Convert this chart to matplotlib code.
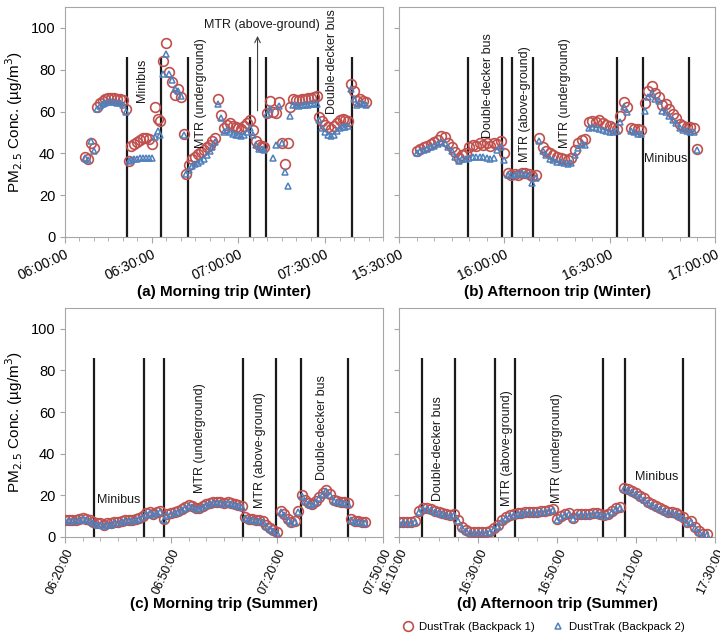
import numpy as np
import matplotlib.pyplot as plt

plt.rcParams['font.family'] = ['Liberation Sans', 'DejaVu Sans']

# ---- data (time in minutes from the start of each axis) ----
# (a) morning trip, winter: axis starts 06:00
a_t = list(range(7, 105))
a_red = [38.5, 37.5, 45, 42.5,
         62, 64, 65, 66, 66.5, 66.5, 66.5, 66, 66, 65.5, 61,
         36.5, 43.5, 44.5, 45.5, 46.5, 47.5, 47.5, 47, 44.5,
         62, 56.5, 55.5, 84, 93, 79, 74, 68, 71, 67, 49.5, 30,
         34.5, 37.5, 38.5, 39.5, 40.5, 41.5, 43, 44, 46, 47.5,
         66, 58.5, 52, 53.5, 54.5, 53, 52.5, 52, 51.5, 53, 54.5, 56,
         51, 46, 44, 43.5, 43,
         59.5, 65, 60, 59.5, 64.5, 45, 35, 45, 62,
         66, 65.5, 65.5, 66, 66, 66.5, 66.5, 67, 67.5,
         57.5, 55.5, 53.5, 52.5, 51.5, 53, 54.5, 56, 56.5, 56, 55.5,
         73, 70, 65, 66, 65, 64.5]
a_blue = [38, 37, 46, 41,
          61, 62.5, 63.5, 64, 64.5, 64.5, 64.5, 64, 64, 63, 60,
          36.5, 37, 37.5, 37.5, 38, 38, 38, 38, 38,
          48, 50.5, 49, 78, 87.5, 78, 75, 71, 70, 67.5, 49, 30,
          32, 34, 35, 35.5, 36.5, 37.5, 39, 41, 43, 45.5,
          63.5, 57, 50, 51, 50, 49.5, 49, 49, 48.5, 49, 50, 52,
          49, 44, 42, 42, 41.5,
          59, 61, 38, 44, 62.5, 45, 31, 24.5, 58,
          63, 63, 62.5, 63, 63, 63, 63.5, 63.5, 63.5,
          56, 52, 50, 49, 48.5, 49, 50.5, 52, 52.5, 52.5, 53,
          71, 66, 63, 64, 63.5, 63]

# (b) afternoon trip, winter: axis starts 15:30
b_t = list(range(5, 86))
b_red = [41, 42, 43, 43.5, 44.5, 45.5, 46.5, 48.5, 48, 45, 43, 40.5, 38, 39, 40,
         43, 44, 43.5, 45, 44, 45, 43.5, 45, 44.5, 46,
         40, 30.5, 29.5, 30, 29.5, 30.5, 30.5, 30, 29, 29.5,
         47.5, 43, 41, 40, 39, 38.5, 38, 37.5, 37, 38, 41.5, 45, 46.5, 47,
         55, 55.5, 55, 56, 54.5, 53.5, 53, 52, 51.5,
         58, 64.5, 62, 52, 51.5, 51.5, 51,
         64, 70, 72, 69, 67, 63, 63.5, 61, 59, 57, 54, 53, 52.5,
         52.5, 52, 42]
b_blue = [40, 41, 41.5, 42, 43, 43.5, 44.5, 45.5, 45, 43, 41, 38.5, 36.5, 37.5, 37.5,
          38, 38.5, 38.5, 38.5, 38.5, 38, 37.5, 38, 41.5, 43,
          37, 29.5, 29.5, 29.5, 30, 30.5, 30, 29.5, 26, 28,
          46, 41, 39, 37.5, 37, 36, 36, 35.5, 35, 35.5, 39, 42.5, 44.5, 44,
          52, 52.5, 52, 51.5, 51, 50.5, 50, 50, 50.5,
          55, 62, 60, 50.5, 50, 49.5, 49.5,
          60.5, 67, 69, 66, 65, 60.5, 60, 58, 56, 54.5, 52, 51, 50.5,
          50, 50, 41.5]

# (c) morning trip, summer: axis starts 06:20
c_t = list(range(0, 86))
c_red = [8, 8, 8, 8, 8.5, 9, 8.5, 8, 7, 6.5, 6.5, 6, 6.5, 6.5, 7, 7, 7.5, 8, 8, 8,
         8.5, 9, 10, 11.5, 12, 11, 12, 12.5, 8.5, 11, 11.5, 12, 12.5, 13.5, 14.5,
         15.5, 15, 14, 14, 15, 16, 16.5, 17, 17, 17, 16.5, 17, 16.5, 16, 15.5, 15,
         9.5, 8.5, 8.5, 8, 8, 7.5, 6, 4.5, 3.5, 2.5, 12.5, 11, 8.5, 7, 7.5, 12.5,
         20, 18, 16.5, 16, 17.5, 19, 21, 22.5, 20.5, 18, 17.5, 17, 17, 16.5,
         8.5, 7.5, 7.5, 7.2, 7]
c_blue = [7.5, 7.5, 7.5, 7.5, 8, 8.5, 8, 7.5, 6.5, 6, 6, 5.5, 6, 6, 6.5, 6.5, 7, 7.5, 7.5, 7.5,
          8, 8.5, 9.5, 11, 11.5, 10.5, 11.5, 12, 8, 10.5, 11, 11.5, 12, 13, 14,
          15, 14.5, 13.5, 13.5, 14.5, 15.5, 16, 16.5, 16.5, 16.5, 16, 16.5, 16, 15.5, 15, 14.5,
          9, 8, 8, 7.5, 7.5, 7, 5.5, 4, 3, 2, 12, 10.5, 8, 6.5, 7, 12,
          19.5, 17.5, 16, 15.5, 17, 18.5, 20.5, 22, 20, 17.5, 17, 16.5, 16.5, 16,
          8, 7, 7, 6.8, 6.5]

# (d) afternoon trip, summer: axis starts 16:10
d_t = list(range(0, 79))
d_red = [7, 7, 7, 7, 7.5, 12.5, 14, 14, 13.5, 12.5, 12, 11.5, 11, 10.5, 11,
         8, 5, 3.5, 2.5, 2.5, 2.5, 2.5, 2.5, 3, 4.5,
         6, 8, 9.5, 10.5, 11, 11.5, 11.5, 12, 12, 12, 12, 12.5, 12.5, 13, 13.5,
         8.5, 10, 11, 11.5, 9, 11, 11, 11, 11, 11.5, 11.5, 11,
         10.5, 11, 12.5, 14, 14.5,
         23.5, 23, 22, 21, 19.5, 18.5, 17, 16, 15, 14, 13, 12, 12, 11.5, 10.5, 9.5,
         7, 7.5, 5, 3, 1.5, 1.5]
d_blue = [6.5, 6.5, 6.5, 6.5, 7, 12, 13.5, 13.5, 13, 12, 11.5, 11, 10.5, 10, 10.5,
          7.5, 4.5, 3, 2, 2, 2, 2, 2, 2.5, 4,
          5.5, 7.5, 9, 10, 10.5, 11, 11, 11.5, 11.5, 11.5, 11.5, 12, 12, 12.5, 13,
          8, 9.5, 10.5, 11, 8.5, 10.5, 10.5, 10.5, 10.5, 11, 11, 10.5,
          10, 10.5, 12, 13.5, 14,
          23, 22.5, 21.5, 20.5, 19, 18, 16.5, 15.5, 14.5, 13.5, 12.5, 11.5, 11.5, 11, 10, 9,
          6.5, 7, 4.5, 2.5, 1, 1]

# mode change times (minutes)
a_lines = [21.4, 33.1, 42.4, 63.9, 69.4, 87.5, 99.2]
b_lines = [19.7, 29.3, 32.2, 38.1, 62.1, 69.6, 82.7]
c_lines = [8.2, 22.4, 28.0, 50.3, 59.8, 66.9, 80.0]
d_lines = [5.8, 14.2, 24.3, 29.4, 51.6, 57.1, 72.0]

a_ticks = [0, 30, 60, 90]
a_labels = ['06:00:00', '06:30:00', '07:00:00', '07:30:00']
b_ticks = [0, 30, 60, 90]
b_labels = ['15:30:00', '16:00:00', '16:30:00', '17:00:00']
c_ticks = [0, 30, 60, 90]
c_labels = ['06:20:00', '06:50:00', '07:20:00', '07:50:00']
d_ticks = [0, 20, 40, 60, 80]
d_labels = ['16:10:00', '16:30:00', '16:50:00', '17:10:00', '17:30:00']

# text labels: (text, x, y, rotation)
a_text = [('Minibus', 26.6, 75, 90), ('MTR (underground)', 47.2, 69, 90),
          ('MTR (above-ground)', 68, 101.5, 0), ('Double-decker bus', 92.4, 84, 90)]
b_text = [('Double-decker bus', 25.4, 72.5, 90), ('MTR (above-ground)', 35.9, 63.5, 90),
          ('MTR (underground)', 47.3, 69, 90), ('Minibus', 76, 37.5, 0)]
c_text = [('Minibus', 15.1, 18, 0), ('MTR (underground)', 38.2, 47.5, 90),
          ('MTR (above-ground)', 55.2, 41.5, 90), ('Double-decker bus', 72.7, 52.5, 90)]
d_text = [('Double-decker bus', 9.9, 42.5, 90), ('MTR (above-ground)', 27.3, 42.5, 90),
          ('MTR (underground)', 39.9, 42.8, 90), ('Minibus', 65.2, 29, 0)]

RED = '#C0504D'
BLUE = '#4F81BD'
GRAY = '#A6A6A6'

fig = plt.figure(figsize=(7.2, 6.41), dpi=100)
W, H = 720, 641


def box(l, r, t, b):
    return [l / W, 1 - b / H, (r - l) / W, (b - t) / H]


panels = [
    (box(65, 383, 7, 237), a_t, a_red, a_blue, a_lines, a_ticks, a_labels, 110, a_text, 25, 10, True),
    (box(399, 715, 7, 237), b_t, b_red, b_blue, b_lines, b_ticks, b_labels, 90, b_text, 25, 10, False),
    (box(65, 383, 308, 537), c_t, c_red, c_blue, c_lines, c_ticks, c_labels, 90, c_text, 65, 9, True),
    (box(399, 715, 308, 537), d_t, d_red, d_blue, d_lines, d_ticks, d_labels, 80, d_text, 65, 9, False),
]

axes = []
for rect, t, red, blue, lines, ticks, labels, xmax, texts, rot, fs, left in panels:
    ax = fig.add_axes(rect)
    axes.append(ax)
    ax.vlines(lines, 0, 86, color='#1a1a1a', lw=1.6, zorder=1)
    l1, = ax.plot(t, red, 'o', ms=7, mfc='none', mec=RED, mew=1.2, zorder=3,
                  label='DustTrak (Backpack 1)')
    l2, = ax.plot(t, blue, '^', ms=4.5, mfc='none', mec=BLUE, mew=1.1, zorder=4,
                  label='DustTrak (Backpack 2)')
    for s, x, y, r in texts:
        ax.text(x, y, s, rotation=r, ha='center', va='center', fontsize=9, color='#1a1a1a')
    ax.set_xlim(0, xmax)
    ax.set_ylim(0, 110)
    ax.set_yticks(range(0, 101, 20))
    ax.set_xticks(ticks)
    ax.set_xticklabels(labels, rotation=rot, ha='right', va='top',
                       rotation_mode='anchor', fontsize=fs)
    ax.set_xticks(np.arange(0, xmax + 0.1, 5), minor=True)
    for sp in ax.spines.values():
        sp.set_color(GRAY)
    ax.tick_params(axis='both', which='both', color=GRAY, direction='out')
    ax.tick_params(axis='y', labelsize=10.5)
    ax.tick_params(axis='x', which='major', length=4)
    ax.tick_params(axis='x', which='minor', length=3)
    if left:
        ax.set_ylabel('PM$_{2.5}$ Conc. (µg/m$^3$)', fontsize=11)
    else:
        ax.set_yticklabels([])

# arrow for MTR (above-ground) in panel (a)
axes[0].annotate('', xy=(66.6, 97.5), xytext=(66.6, 59),
                 arrowprops=dict(arrowstyle='->', color='#404040', lw=0.8))

fig.text(224 / W, 1 - 292 / H, '(a) Morning trip (Winter)', ha='center', va='center',
         fontsize=11, fontweight='bold')
fig.text(557 / W, 1 - 292 / H, '(b) Afternoon trip (Winter)', ha='center', va='center',
         fontsize=11, fontweight='bold')
fig.text(224 / W, 1 - 604 / H, '(c) Morning trip (Summer)', ha='center', va='center',
         fontsize=11, fontweight='bold')
fig.text(557 / W, 1 - 604 / H, '(d) Afternoon trip (Summer)', ha='center', va='center',
         fontsize=11, fontweight='bold')

fig.legend(handles=[l1, l2], loc='center', bbox_to_anchor=(543 / W, 1 - 627 / H),
           ncol=2, frameon=False, fontsize=8.2, handlelength=1.2, handletextpad=0.4,
           columnspacing=1.4, markerscale=1.0)

plt.savefig('out.png', dpi=100)
